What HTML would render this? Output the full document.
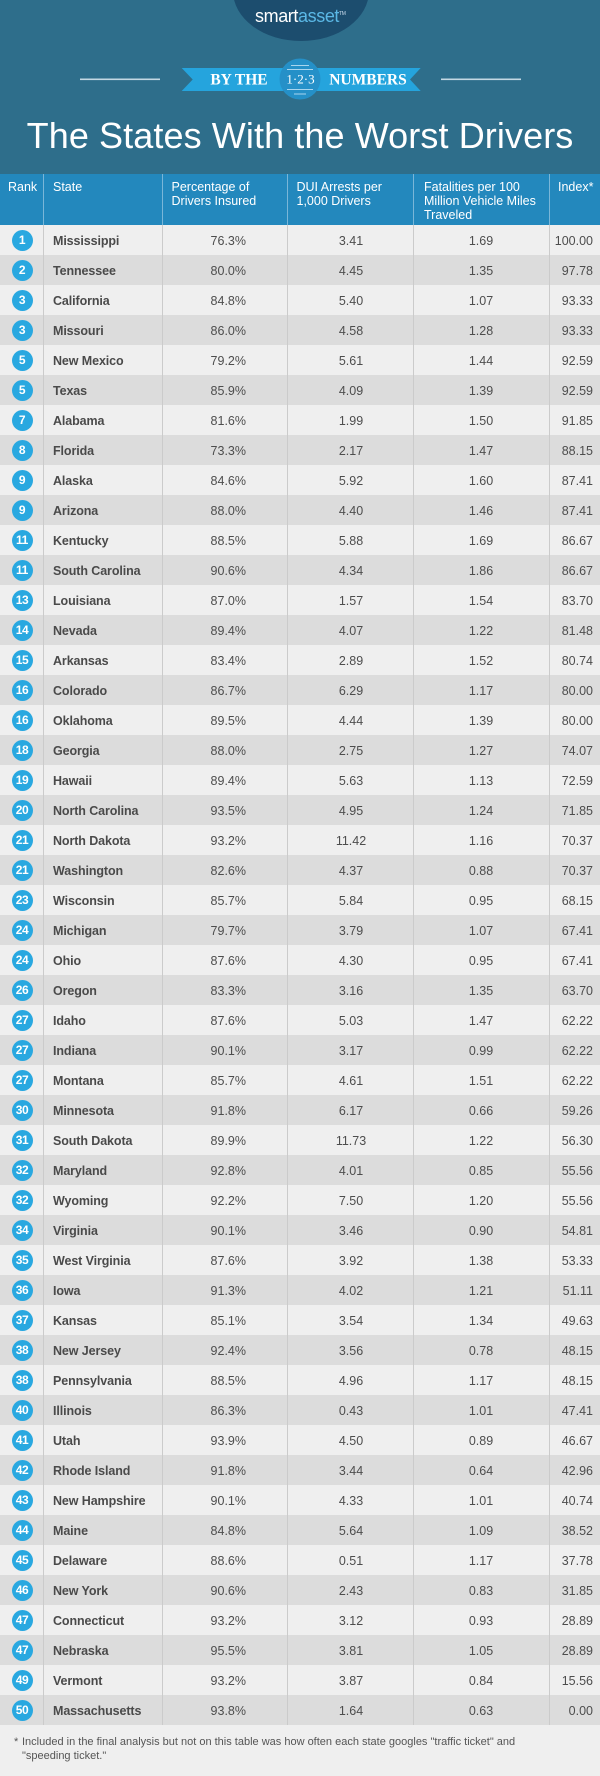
<!DOCTYPE html>
<html><head><meta charset="utf-8">
<style>
*{margin:0;padding:0;box-sizing:border-box}
html,body{width:600px;height:1776px;overflow:hidden;background:#efefef}
body{position:relative;font-family:"Liberation Sans",Arial,sans-serif}
#top{position:absolute;left:0;top:0;width:600px;height:174px;background:#2e6e8b;overflow:hidden}
#logo{position:absolute;left:233px;top:-59px;width:136px;height:100px;border-radius:50%;background:#1c4d6e}
#logotxt{position:absolute;left:255px;top:5px;font-size:18px;line-height:22px;letter-spacing:-0.4px;color:#fff}
#logotxt span{color:#5bb8e6}
#logotxt sup{font-size:5px;vertical-align:top;color:#cde;position:relative;top:-2px}
#title{position:absolute;left:0;top:118px;width:600px;text-align:center;font-size:36px;line-height:36px;color:#fff;font-weight:300;letter-spacing:0.1px}
#hdr{position:absolute;left:0;top:174px;width:600px;height:51px;background:#2388bd}
.h{position:absolute;top:6px;font-size:12.5px;line-height:14px;color:#fff}
#rows{position:absolute;left:0;top:225px;width:600px}
.r{position:relative;height:30px;background:#efefef;color:#4d4d4d;font-size:12.5px}
.r:nth-child(even){background:#dcdcdc}
.r i{position:absolute;left:11.5px;top:5px;width:21px;height:21px;border-radius:50%;background:#29a8e0;color:#fff;font-style:normal;font-weight:bold;font-size:12px;line-height:21px;text-align:center;letter-spacing:-0.4px}
.r b{position:absolute;left:53px;top:1px;line-height:30px;font-size:12.5px;color:#4a4a4a;letter-spacing:-0.1px}
.r span{position:absolute;top:1px;line-height:30px}
.p{left:162px;width:84px;text-align:right}
.d{left:287px;width:128px;text-align:center}
.f{left:413px;width:136px;text-align:center}
.x{left:549px;width:44px;text-align:right}
.vl{position:absolute;width:1px;top:225px;height:1500px;background:#cbcbcb}
.vh{position:absolute;width:1px;top:174px;height:51px;background:#7ab6d8}
#foot{position:absolute;left:22px;top:1736px;width:560px;font-size:11px;line-height:13.5px;color:#555}
#foot em{position:absolute;left:-8px;top:0;font-style:normal}
</style></head><body>
<div id="top">
  <div id="logo"></div>
  <div id="logotxt">smart<span>asset</span><sup>TM</sup></div>
  <svg width="600" height="110" style="position:absolute;left:0;top:0">
    <rect x="80" y="78.5" width="80" height="1.6" fill="#c4d8e3"/>
    <rect x="441" y="78.5" width="80" height="1.6" fill="#c4d8e3"/>
    <polygon points="181.7,68 420.7,68 410,79.5 420.7,91 181.7,91 192.7,79.5" fill="#25a4dd"/>
    <circle cx="300" cy="79" r="20.5" fill="#2590c8"/>
    <rect x="291" y="65" width="18" height="1" fill="#a9d5ee"/>
    <rect x="287" y="69" width="26" height="1" fill="#a9d5ee"/>
    <rect x="287" y="89" width="26" height="1" fill="#a9d5ee"/>
    <rect x="294" y="93.5" width="12" height="1" fill="#a9d5ee"/>
    <text x="239" y="84.7" text-anchor="middle" font-family="Liberation Serif,serif" font-weight="bold" font-size="15.5" fill="#fff">BY THE</text>
    <text x="368" y="84.7" text-anchor="middle" font-family="Liberation Serif,serif" font-weight="bold" font-size="15.5" fill="#fff">NUMBERS</text>
    <text x="300.5" y="83.5" text-anchor="middle" font-family="Liberation Serif,serif" font-size="13" fill="#fff">1·2·3</text>
  </svg>
  <div id="title">The States With the Worst Drivers</div>
</div>
<div id="hdr">
  <div class="h" style="left:8px">Rank</div>
  <div class="h" style="left:53px">State</div>
  <div class="h" style="left:171.5px">Percentage of<br>Drivers Insured</div>
  <div class="h" style="left:296.5px">DUI Arrests per<br>1,000 Drivers</div>
  <div class="h" style="left:424px">Fatalities per 100<br>Million Vehicle Miles<br>Traveled</div>
  <div class="h" style="left:558px">Index*</div>
</div>
<div id="rows">
<div class="r"><i>1</i><b>Mississippi</b><span class="p">76.3%</span><span class="d">3.41</span><span class="f">1.69</span><span class="x">100.00</span></div>
<div class="r"><i>2</i><b>Tennessee</b><span class="p">80.0%</span><span class="d">4.45</span><span class="f">1.35</span><span class="x">97.78</span></div>
<div class="r"><i>3</i><b>California</b><span class="p">84.8%</span><span class="d">5.40</span><span class="f">1.07</span><span class="x">93.33</span></div>
<div class="r"><i>3</i><b>Missouri</b><span class="p">86.0%</span><span class="d">4.58</span><span class="f">1.28</span><span class="x">93.33</span></div>
<div class="r"><i>5</i><b>New Mexico</b><span class="p">79.2%</span><span class="d">5.61</span><span class="f">1.44</span><span class="x">92.59</span></div>
<div class="r"><i>5</i><b>Texas</b><span class="p">85.9%</span><span class="d">4.09</span><span class="f">1.39</span><span class="x">92.59</span></div>
<div class="r"><i>7</i><b>Alabama</b><span class="p">81.6%</span><span class="d">1.99</span><span class="f">1.50</span><span class="x">91.85</span></div>
<div class="r"><i>8</i><b>Florida</b><span class="p">73.3%</span><span class="d">2.17</span><span class="f">1.47</span><span class="x">88.15</span></div>
<div class="r"><i>9</i><b>Alaska</b><span class="p">84.6%</span><span class="d">5.92</span><span class="f">1.60</span><span class="x">87.41</span></div>
<div class="r"><i>9</i><b>Arizona</b><span class="p">88.0%</span><span class="d">4.40</span><span class="f">1.46</span><span class="x">87.41</span></div>
<div class="r"><i>11</i><b>Kentucky</b><span class="p">88.5%</span><span class="d">5.88</span><span class="f">1.69</span><span class="x">86.67</span></div>
<div class="r"><i>11</i><b>South Carolina</b><span class="p">90.6%</span><span class="d">4.34</span><span class="f">1.86</span><span class="x">86.67</span></div>
<div class="r"><i>13</i><b>Louisiana</b><span class="p">87.0%</span><span class="d">1.57</span><span class="f">1.54</span><span class="x">83.70</span></div>
<div class="r"><i>14</i><b>Nevada</b><span class="p">89.4%</span><span class="d">4.07</span><span class="f">1.22</span><span class="x">81.48</span></div>
<div class="r"><i>15</i><b>Arkansas</b><span class="p">83.4%</span><span class="d">2.89</span><span class="f">1.52</span><span class="x">80.74</span></div>
<div class="r"><i>16</i><b>Colorado</b><span class="p">86.7%</span><span class="d">6.29</span><span class="f">1.17</span><span class="x">80.00</span></div>
<div class="r"><i>16</i><b>Oklahoma</b><span class="p">89.5%</span><span class="d">4.44</span><span class="f">1.39</span><span class="x">80.00</span></div>
<div class="r"><i>18</i><b>Georgia</b><span class="p">88.0%</span><span class="d">2.75</span><span class="f">1.27</span><span class="x">74.07</span></div>
<div class="r"><i>19</i><b>Hawaii</b><span class="p">89.4%</span><span class="d">5.63</span><span class="f">1.13</span><span class="x">72.59</span></div>
<div class="r"><i>20</i><b>North Carolina</b><span class="p">93.5%</span><span class="d">4.95</span><span class="f">1.24</span><span class="x">71.85</span></div>
<div class="r"><i>21</i><b>North Dakota</b><span class="p">93.2%</span><span class="d">11.42</span><span class="f">1.16</span><span class="x">70.37</span></div>
<div class="r"><i>21</i><b>Washington</b><span class="p">82.6%</span><span class="d">4.37</span><span class="f">0.88</span><span class="x">70.37</span></div>
<div class="r"><i>23</i><b>Wisconsin</b><span class="p">85.7%</span><span class="d">5.84</span><span class="f">0.95</span><span class="x">68.15</span></div>
<div class="r"><i>24</i><b>Michigan</b><span class="p">79.7%</span><span class="d">3.79</span><span class="f">1.07</span><span class="x">67.41</span></div>
<div class="r"><i>24</i><b>Ohio</b><span class="p">87.6%</span><span class="d">4.30</span><span class="f">0.95</span><span class="x">67.41</span></div>
<div class="r"><i>26</i><b>Oregon</b><span class="p">83.3%</span><span class="d">3.16</span><span class="f">1.35</span><span class="x">63.70</span></div>
<div class="r"><i>27</i><b>Idaho</b><span class="p">87.6%</span><span class="d">5.03</span><span class="f">1.47</span><span class="x">62.22</span></div>
<div class="r"><i>27</i><b>Indiana</b><span class="p">90.1%</span><span class="d">3.17</span><span class="f">0.99</span><span class="x">62.22</span></div>
<div class="r"><i>27</i><b>Montana</b><span class="p">85.7%</span><span class="d">4.61</span><span class="f">1.51</span><span class="x">62.22</span></div>
<div class="r"><i>30</i><b>Minnesota</b><span class="p">91.8%</span><span class="d">6.17</span><span class="f">0.66</span><span class="x">59.26</span></div>
<div class="r"><i>31</i><b>South Dakota</b><span class="p">89.9%</span><span class="d">11.73</span><span class="f">1.22</span><span class="x">56.30</span></div>
<div class="r"><i>32</i><b>Maryland</b><span class="p">92.8%</span><span class="d">4.01</span><span class="f">0.85</span><span class="x">55.56</span></div>
<div class="r"><i>32</i><b>Wyoming</b><span class="p">92.2%</span><span class="d">7.50</span><span class="f">1.20</span><span class="x">55.56</span></div>
<div class="r"><i>34</i><b>Virginia</b><span class="p">90.1%</span><span class="d">3.46</span><span class="f">0.90</span><span class="x">54.81</span></div>
<div class="r"><i>35</i><b>West Virginia</b><span class="p">87.6%</span><span class="d">3.92</span><span class="f">1.38</span><span class="x">53.33</span></div>
<div class="r"><i>36</i><b>Iowa</b><span class="p">91.3%</span><span class="d">4.02</span><span class="f">1.21</span><span class="x">51.11</span></div>
<div class="r"><i>37</i><b>Kansas</b><span class="p">85.1%</span><span class="d">3.54</span><span class="f">1.34</span><span class="x">49.63</span></div>
<div class="r"><i>38</i><b>New Jersey</b><span class="p">92.4%</span><span class="d">3.56</span><span class="f">0.78</span><span class="x">48.15</span></div>
<div class="r"><i>38</i><b>Pennsylvania</b><span class="p">88.5%</span><span class="d">4.96</span><span class="f">1.17</span><span class="x">48.15</span></div>
<div class="r"><i>40</i><b>Illinois</b><span class="p">86.3%</span><span class="d">0.43</span><span class="f">1.01</span><span class="x">47.41</span></div>
<div class="r"><i>41</i><b>Utah</b><span class="p">93.9%</span><span class="d">4.50</span><span class="f">0.89</span><span class="x">46.67</span></div>
<div class="r"><i>42</i><b>Rhode Island</b><span class="p">91.8%</span><span class="d">3.44</span><span class="f">0.64</span><span class="x">42.96</span></div>
<div class="r"><i>43</i><b>New Hampshire</b><span class="p">90.1%</span><span class="d">4.33</span><span class="f">1.01</span><span class="x">40.74</span></div>
<div class="r"><i>44</i><b>Maine</b><span class="p">84.8%</span><span class="d">5.64</span><span class="f">1.09</span><span class="x">38.52</span></div>
<div class="r"><i>45</i><b>Delaware</b><span class="p">88.6%</span><span class="d">0.51</span><span class="f">1.17</span><span class="x">37.78</span></div>
<div class="r"><i>46</i><b>New York</b><span class="p">90.6%</span><span class="d">2.43</span><span class="f">0.83</span><span class="x">31.85</span></div>
<div class="r"><i>47</i><b>Connecticut</b><span class="p">93.2%</span><span class="d">3.12</span><span class="f">0.93</span><span class="x">28.89</span></div>
<div class="r"><i>47</i><b>Nebraska</b><span class="p">95.5%</span><span class="d">3.81</span><span class="f">1.05</span><span class="x">28.89</span></div>
<div class="r"><i>49</i><b>Vermont</b><span class="p">93.2%</span><span class="d">3.87</span><span class="f">0.84</span><span class="x">15.56</span></div>
<div class="r"><i>50</i><b>Massachusetts</b><span class="p">93.8%</span><span class="d">1.64</span><span class="f">0.63</span><span class="x">0.00</span></div>
</div>
<div class="vh" style="left:43px"></div><div class="vh" style="left:162px"></div><div class="vh" style="left:287px"></div><div class="vh" style="left:413px"></div><div class="vh" style="left:549px"></div>
<div class="vl" style="left:43px"></div><div class="vl" style="left:162px"></div><div class="vl" style="left:287px"></div><div class="vl" style="left:413px"></div><div class="vl" style="left:549px"></div>
<div id="foot"><em>*</em>Included in the final analysis but not on this table was how often each state googles "traffic ticket" and<br>"speeding ticket."</div>
</body></html>
